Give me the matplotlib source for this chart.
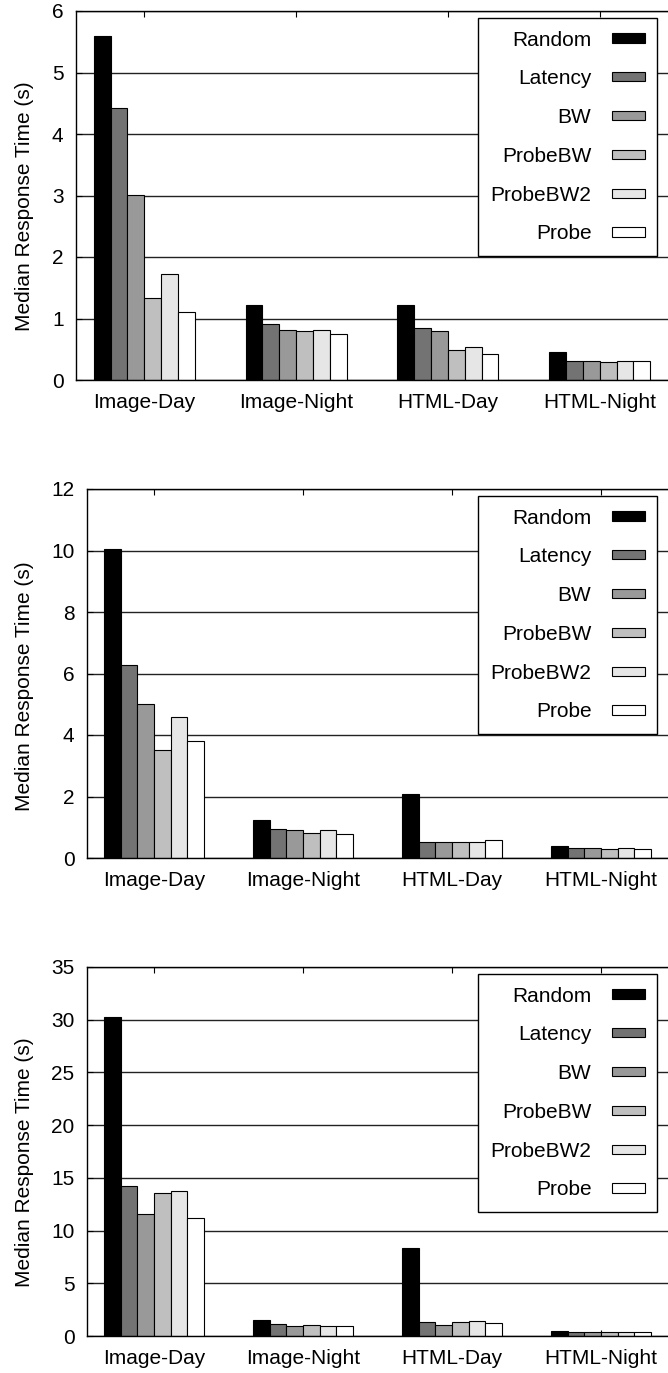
import numpy as np
import matplotlib
matplotlib.use('Agg')
import matplotlib.pyplot as plt
from matplotlib.transforms import blended_transform_factory

plt.rcParams['font.family'] = ['Liberation Sans', 'DejaVu Sans']

# data
workloads = ['Image-Day', 'Image-Night', 'HTML-Day', 'HTML-Night']
policies = ['Random', 'Latency', 'BW', 'ProbeBW', 'ProbeBW2', 'Probe']
colors = ['#000000', '#737373', '#999999', '#bfbfbf', '#e6e6e6', '#ffffff']

# rows = policies, columns = workloads
top_vals = [
    [5.59, 1.22, 1.22, 0.45],
    [4.42, 0.91, 0.85, 0.31],
    [3.01, 0.82, 0.80, 0.31],
    [1.34, 0.80, 0.49, 0.30],
    [1.73, 0.81, 0.54, 0.31],
    [1.10, 0.74, 0.43, 0.31],
]
mid_vals = [
    [10.06, 1.24, 2.08, 0.39],
    [6.27, 0.93, 0.53, 0.31],
    [5.02, 0.91, 0.53, 0.33],
    [3.51, 0.80, 0.53, 0.30],
    [4.60, 0.92, 0.53, 0.34],
    [3.81, 0.78, 0.60, 0.30],
]
bot_vals = [
    [30.28, 1.52, 8.33, 0.51],
    [14.22, 1.14, 1.33, 0.38],
    [11.53, 0.98, 1.08, 0.38],
    [13.53, 1.01, 1.33, 0.35],
    [13.75, 0.98, 1.46, 0.38],
    [11.15, 0.98, 1.21, 0.38],
]
ylims = [6, 12, 35]
ysteps = [1, 2, 5]

W, H = 668, 1373
fig = plt.figure(figsize=(W / 100, H / 100), dpi=100)

# axes boxes in pixels: left, top, bottom
boxes = [(76, 11, 380), (87, 489, 858), (87, 967, 1336)]
label_y = [0.47, 0.466, 0.47]

x = np.arange(len(workloads))
bw = 1 / 9

for p, vals in enumerate([top_vals, mid_vals, bot_vals]):
    l, t, b = boxes[p]
    ax = fig.add_axes([l / W, (H - b) / H, (W - l) / W, (b - t) / H])
    for i, name in enumerate(policies):
        ax.bar(x + (i - 2.5) * bw, vals[i], bw, color=colors[i],
               edgecolor='black', linewidth=0.8, label=name, zorder=2)
    ax.set_xlim(-0.45, 3.45)
    ax.set_ylim(0, ylims[p])
    ax.set_yticks(np.arange(0, ylims[p] + 0.1, ysteps[p]))
    ax.set_xticks(x)
    ax.set_xticklabels(workloads, fontsize=15)
    ax.tick_params(axis='y', labelsize=15, direction='in', length=4, pad=9)
    ax.tick_params(axis='x', direction='in', length=4, pad=9, top=True)
    ax.yaxis.grid(True, color='#222222', linewidth=1, zorder=0)
    ax.set_axisbelow(True)
    ax.spines['right'].set_visible(False)
    for s in ['left', 'top', 'bottom']:
        ax.spines[s].set_linewidth(1)

    tr = blended_transform_factory(fig.transFigure, ax.transAxes)
    ax.set_ylabel('Median Response Time (s)', fontsize=15, va='center')
    ax.yaxis.set_label_coords(25 / W, label_y[p], transform=tr)

    leg = ax.legend(loc='upper right', bbox_to_anchor=(657 / W, 1 - (t + 7) / H),
                    bbox_transform=fig.transFigure, borderaxespad=0,
                    fontsize=15, markerfirst=False, fancybox=False,
                    framealpha=1, edgecolor='black', handlelength=1.55,
                    handleheight=0.31, labelspacing=0.95, borderpad=0.6,
                    handletextpad=1.0)
    leg.get_frame().set_linewidth(1)
    for txt in leg.get_texts():
        txt.set_ha('right')

fig.savefig('out.png', dpi=100)
